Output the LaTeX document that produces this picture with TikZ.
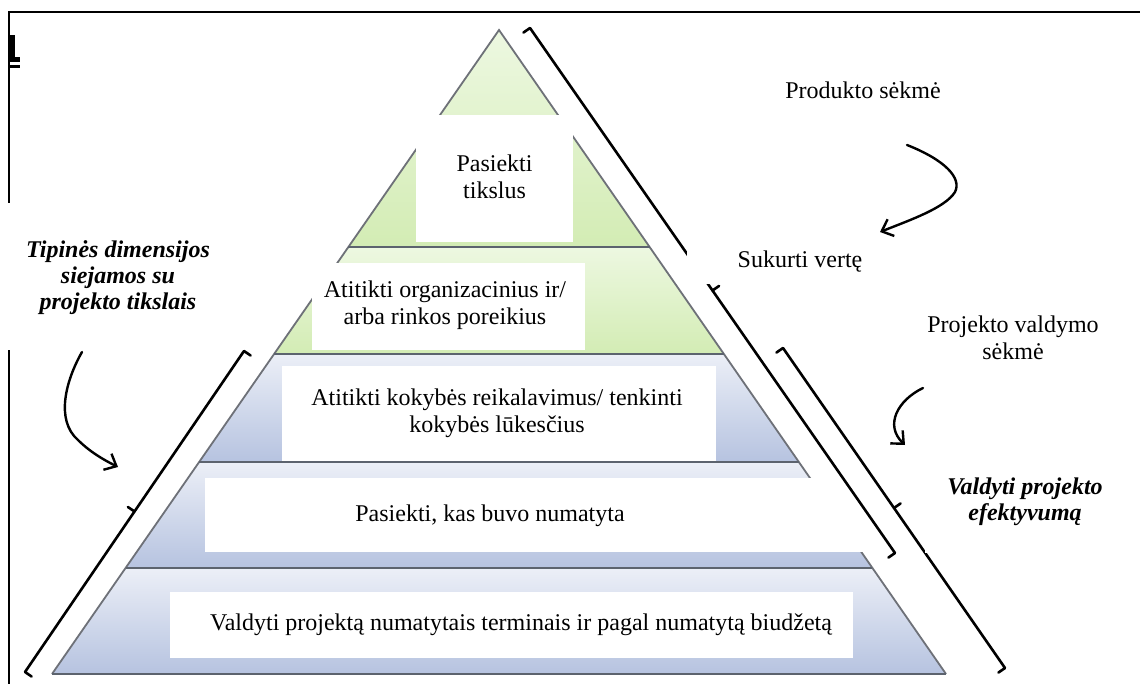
\documentclass[tikz,border=0pt]{standalone}
\usepackage{fontspec}
\setmainfont{Liberation Serif}
\usetikzlibrary{calc,arrows.meta}
\definecolor{gTop}{HTML}{EDF8E1}
\definecolor{gBot}{HTML}{D3ECB4}
\definecolor{bTop}{HTML}{ECEFF7}
\definecolor{bBot}{HTML}{B6C3E0}
\definecolor{edgeC}{HTML}{6E7178}
\definecolor{sepC}{HTML}{5C636E}
\begin{document}
\begin{tikzpicture}[x=0.5pt,y=-0.5pt,
  layerG/.style={top color=gTop, bottom color=gBot, draw=none},
  layerB/.style={top color=bTop, bottom color=bBot, draw=none},
  pedge/.style={draw=edgeC, line width=0.9pt},
  psep/.style={draw=sepC, line width=1.2pt},
  wbox/.style={fill=white, draw=none, inner sep=0pt, outer sep=0pt, anchor=north west},
  txt/.style={font=\fontsize{12}{13.5}\selectfont, align=center, inner sep=0pt},
  btxt/.style={font=\fontsize{12}{13}\selectfont\bfseries\itshape, align=center, inner sep=0pt},
  brk/.style={line width=1.3pt, black, line join=round, line cap=round},
  arr/.style={line width=1.2pt, line cap=round, -{Straight Barb[length=5pt,width=9pt,line width=1.2pt]}},
  frm/.style={line width=1pt, black}
]
\useasboundingbox (0,0) rectangle (1140,684);
\fill[white] (0,0) rectangle (1140,684);

% frame
\draw[frm] (9,684) -- (9,12) -- (1140,12);
\fill (9,35) rectangle (15,62);
\fill (9,57) rectangle (20,62);
\fill (9,65) rectangle (20,68);

% pyramid layers
\coordinate (ap) at (499,30);
\coordinate (l1) at (348.4,247); \coordinate (r1) at (649.6,247);
\coordinate (l2) at (274.1,354); \coordinate (r2) at (723.9,354);
\coordinate (l3) at (199.2,462); \coordinate (r3) at (798.8,462);
\coordinate (l4) at (125.6,568); \coordinate (r4) at (872.4,568);
\coordinate (l5) at (52,674);    \coordinate (r5) at (946,674);

\path[layerG] (ap) -- (r1) -- (l1) -- cycle;
\path[layerG] (l1) -- (r1) -- (r2) -- (l2) -- cycle;
\path[layerB] (l2) -- (r2) -- (r3) -- (l3) -- cycle;
\path[layerB] (l3) -- (r3) -- (r4) -- (l4) -- cycle;
\path[layerB] (l4) -- (r4) -- (r5) -- (l5) -- cycle;
\draw[pedge] (l5) -- (ap) -- (r5);
\draw[psep] (l1) -- (r1);
\draw[psep] (l2) -- (r2);
\draw[psep] (l3) -- (r3);
\draw[psep] (l4) -- (r4);
\draw[psep] (l5) -- (r5);

% white text boxes in the pyramid
\node[wbox, minimum width=78.5pt, minimum height=63.5pt] (b1) at (416,115) {};
\node[wbox, minimum width=136.5pt, minimum height=43.5pt] (b2) at (312,263) {};
\node[wbox, minimum width=217pt, minimum height=47.5pt] (b3) at (282,366) {};
\node[wbox, minimum width=335pt, minimum height=37pt] (b4) at (205,478) {};
\node[wbox, minimum width=341.5pt, minimum height=33pt] (b5) at (170,592) {};

\node[txt] (t1) at (494.5,177) {Pasiekti\\tikslus};
\node[txt] (t2) at (445,305) {Atitikti organizacinius ir/\\arba rinkos poreikius};
\node[txt] (t3) at (497,413) {Atitikti kokybės reikalavimus/ tenkinti\\kokybės lūkesčius};
\node[txt] (t4) at (490,516) {Pasiekti, kas buvo numatyta};
\node[txt] (t5) at (521,625) {Valdyti projektą numatytais terminais ir pagal numatytą biudžetą};

% braces
\coordinate (A1) at (530,28);  \coordinate (A2) at (895,553);
\coordinate (B1) at (783,348); \coordinate (B2) at (1005,668);
\coordinate (C1) at (25,672);  \coordinate (C2) at (244,351);
\coordinate (Am) at ($(A1)!0.5!(A2)$);
\coordinate (Bm) at ($(B1)!0.5!(B2)$);
\coordinate (Cm) at ($(C1)!0.5!(C2)$);
\draw[brk] ($(A1)!4pt!-90:(A2)$) -- (A1) -- (A2) -- ($(A2)!4pt!90:(A1)$);
\draw[brk] (Am) -- ($(Am)!4pt!90:(A2)$);
\draw[brk] ($(B1)!4pt!-90:(B2)$) -- (B1) -- (B2) -- ($(B2)!4pt!90:(B1)$);
\draw[brk] (Bm) -- ($(Bm)!4pt!90:(B2)$);
\draw[brk] ($(C1)!4pt!-90:(C2)$) -- (C1) -- (C2) -- ($(C2)!4pt!90:(C1)$);
\draw[brk] (Cm) -- ($(Cm)!4pt!90:(C2)$);

% label boxes (white, hiding lines)
\node[wbox, minimum width=120pt, minimum height=73.5pt] (bTip) at (0,203) {};
\node[wbox, minimum width=106.5pt, minimum height=24.5pt] (bSuk) at (687,235) {};
\node[wbox, minimum width=107.5pt, minimum height=49pt] (bVal) at (925,455) {};

\node[txt] (lProd) at (863,90) {Produkto sėkmė};
\node[txt] (lSuk) at (800,262) {Sukurti vertę};
\node[txt] (lProj) at (1013,338) {Projekto valdymo\\sėkmė};
\node[btxt] (lVal) at (1025,502) {Valdyti projekto\\efektyvumą};
\node[btxt] (lTip) at (118,278) {Tipinės dimensijos\\siejamos su\\projekto tikslais};

% curved arrows
\coordinate (p0) at (907,145); \coordinate (p1) at (880,232);
\coordinate (q0) at (82,352);  \coordinate (q1) at (118,467);
\coordinate (s0) at (923,388); \coordinate (s1) at (905,445);
\draw[arr] (p0) .. controls (945,160) and (962,178) .. (955,192) .. controls (945,208) and (910,220) .. (p1);
\draw[arr] (q0) .. controls (66,380) and (55,420) .. (78,440) .. controls (90,452) and (104,460) .. (q1);
\draw[arr] (s0) .. controls (898,400) and (884,425) .. (s1);
\end{tikzpicture}
\end{document}
